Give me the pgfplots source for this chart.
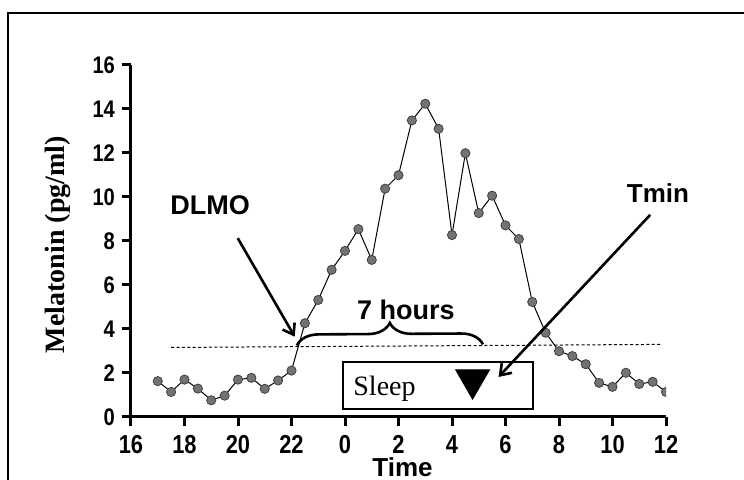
\documentclass[border=0pt]{standalone}
\usepackage{fontspec}
\setmainfont{Liberation Serif}
\setsansfont{Liberation Sans}
\newfontfamily\narrowsans[FakeStretch=0.84]{Liberation Sans}
\usepackage{pgfplots}
\usepackage{pgfplotstable}
\pgfplotsset{compat=1.18}
\usetikzlibrary{arrows.meta,decorations.pathreplacing}

% Melatonin profile, sampled every 30 min (clock time in hours, 24 = midnight)
\pgfplotstableread{
t     mel
17.0  1.63
17.5  1.14
18.0  1.70
18.5  1.29
19.0  0.76
19.5  0.97
20.0  1.70
20.5  1.78
21.0  1.28
21.5  1.66
22.0  2.11
22.5  4.26
23.0  5.32
23.5  6.69
24.0  7.55
24.5  8.54
25.0  7.14
25.5  10.38
26.0  10.99
26.5  13.48
27.0  14.24
27.5  13.10
28.0  8.27
28.5  11.99
29.0  9.27
29.5  10.06
30.0  8.71
30.5  8.09
31.0  5.23
31.5  3.83
32.0  2.99
32.5  2.77
33.0  2.40
33.5  1.55
34.0  1.37
34.5  2.01
35.0  1.50
35.5  1.60
36.0  1.14
}\meltab

\begin{document}
\begin{tikzpicture}
\useasboundingbox (-65.5pt,-31.5pt) rectangle (306.5pt,208.5pt);
% outer frame
\draw[line width=1pt] (-61.5pt,-80pt) -- (-61.5pt,202pt) -- (340pt,202pt);
\begin{axis}[
  scale only axis, width=267.5pt, height=176pt,
  xmin=16, xmax=36, ymin=0, ymax=16,
  axis x line=bottom, axis y line=left,
  axis line style={-, line width=1.5pt},
  xtick={16,18,...,36},
  xticklabels={16,18,20,22,0,2,4,6,8,10,12},
  ytick={0,2,...,16},
  tick align=outside, major tick length=4.5pt,
  every tick/.style={black, line width=1.5pt},
  /pgf/number format/assume math mode=true,
  yticklabel style={font=\fontsize{12}{14}\narrowsans\bfseries},
  xticklabel style={font=\fontsize{13}{15}\narrowsans\bfseries, inner sep=2pt, yshift=-2.5pt},
  xlabel={Time}, ylabel={Melatonin (pg/ml)},
  xlabel style={font=\fontsize{13}{15}\sffamily\bfseries,
    at={(axis description cs:0.5,0)}, anchor=base, yshift=-30pt, xshift=2pt},
  ylabel style={font=\fontsize{14}{16}\rmfamily\bfseries,
    at={(axis description cs:-0.1364,0.49)}, anchor=center},
  clip mode=individual,
]
% threshold
\addplot[black, line width=0.5pt, dash pattern=on 1.5pt off 1.2pt]
  coordinates {(17.5,3.16) (35.8,3.30)};
% melatonin curve
\addplot[black, line width=0.5pt, mark=*, mark size=2.3pt,
  mark options={fill=black!55, draw=black!75, line width=0.4pt},
  clip marker paths=true] table[x=t, y=mel] {\meltab};
% sleep window
\draw[line width=1pt, fill=white] (23.93,0.38) rectangle (31.04,2.48);
\node[anchor=west, font=\fontsize{14}{16}\rmfamily, inner sep=0pt] at (24.3,1.3) {Sleep};
\addplot[only marks, mark=triangle*, mark size=9.8pt,
  mark options={rotate=180, fill=black, draw=black}]
  coordinates {(28.77,1.70)};
% annotations
\node[font=\fontsize{13.5}{15}\sffamily\bfseries] at (18.96,9.64) {DLMO};
\node[font=\fontsize{13}{15}\sffamily\bfseries] at (35.7,10.18) {Tmin};
\node[font=\fontsize{13.5}{15}\sffamily\bfseries] at (26.28,4.86) {7 hours};
\draw[line width=1.3pt, -{Straight Barb[length=5pt, width=7pt]}] (19.99,8.13) -- (22.12,3.65);
\draw[line width=1.3pt, -{Straight Barb[length=5pt, width=7pt]}] (35.41,9.19) -- (29.74,1.82);
\draw[line width=1.3pt, decorate, decoration={brace, amplitude=11pt}] (22.2,3.25) -- (29.16,3.3);
\end{axis}
\end{tikzpicture}
\end{document}
